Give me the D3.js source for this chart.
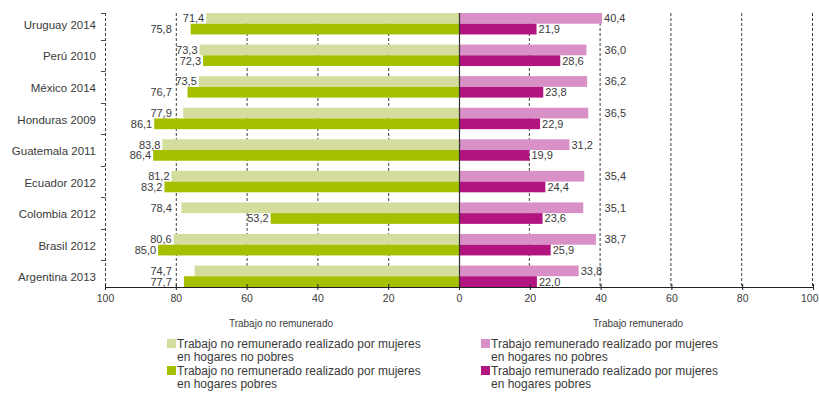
<!DOCTYPE html>
<html>
<head>
<meta charset="utf-8">
<script src="https://cdn.jsdelivr.net/npm/d3@7"></script>
<style>
  html, body { margin: 0; padding: 0; background: #ffffff; }
  svg { display: block; font-family: "Liberation Sans", Arial, sans-serif; }
</style>
</head>
<body>
<svg id="chart" width="819" height="394"></svg>
<script>
// Categories, top to bottom
const categories = ["Uruguay 2014", "Perú 2010", "México 2014", "Honduras 2009", "Guatemala 2011",
                    "Ecuador 2012", "Colombia 2012", "Brasil 2012", "Argentina 2013"];

// Trabajo no remunerado (left panel)
const unpaidNonPoor = [71.4, 73.3, 73.5, 77.9, 83.8, 81.2, 78.4, 80.6, 74.7];
const unpaidPoor    = [75.8, 72.3, 76.7, 86.1, 86.4, 83.2, 53.2, 85.0, 77.7];

// Trabajo remunerado (right panel)
const paidNonPoor = [40.4, 36.0, 36.2, 36.5, 31.2, 35.4, 35.1, 38.7, 33.8];
const paidPoor    = [21.9, 28.6, 23.8, 22.9, 19.9, 24.4, 23.6, 25.9, 22.0];

const tickValues = [0, 20, 40, 60, 80, 100];

const legendItems = [
  ["Trabajo no remunerado realizado por mujeres", "en hogares no pobres"],
  ["Trabajo no remunerado realizado por mujeres", "en hogares pobres"],
  ["Trabajo remunerado realizado por mujeres", "en hogares no pobres"],
  ["Trabajo remunerado realizado por mujeres", "en hogares pobres"]
];

const colors = {
  unpaidNonPoor: "#d5dd9e",
  unpaidPoor: "#a6bf00",
  paidNonPoor: "#d990c6",
  paidPoor: "#b2157f"
};
const textColor = "#3a3a3a";

const svg = d3.select("#chart");
svg.append("rect").attr("width", 819).attr("height", 394).attr("fill", "#fff");

const plotTop = 13, plotBottom = 287, zeroX = 459;
const xL = d3.scaleLinear().domain([0, 100]).range([zeroX, 105]);
const xR = d3.scaleLinear().domain([0, 100]).range([zeroX, 813]);
const y = d3.scaleBand().domain(categories).range([plotTop, plotBottom]).paddingInner(0.32).paddingOuter(0);
const sub = d3.scaleBand().domain(["nonPoor", "poor"]).range([0, y.bandwidth()]);

const fmt = v => d3.format(".1f")(v).replace(".", ",");

// Dashed gridlines (behind the bars)
const grid = svg.append("g").attr("stroke", "#3f3f3f").attr("stroke-width", 1)
  .attr("stroke-dasharray", "3,2");
[20, 40, 60, 80, 100].forEach(v => {
  grid.append("line").attr("x1", xL(v) + 0.5).attr("x2", xL(v) + 0.5).attr("y1", plotTop).attr("y2", plotBottom);
  grid.append("line").attr("x1", xR(v) - 0.5).attr("x2", xR(v) - 0.5).attr("y1", plotTop).attr("y2", plotBottom);
});

// Category boundary ticks on the left edge
const step = y.step(), gap = step - y.bandwidth();
const boundaries = [plotTop].concat(categories.slice(1).map(c => y(c) - gap / 2));
svg.append("g").selectAll("line").data(boundaries).join("line")
  .attr("x1", xL(100) - 4).attr("x2", xL(100) + 0.5)
  .attr("y1", d => Math.round(d) + 0.5).attr("y2", d => Math.round(d) + 0.5)
  .attr("stroke", "#4a4a4a").attr("stroke-width", 1);

// Bars
function bars(values, scale, key, color, side) {
  svg.append("g").selectAll("rect").data(values).join("rect")
    .attr("x", d => side === "left" ? scale(d) : scale(0))
    .attr("width", d => Math.abs(scale(d) - scale(0)))
    .attr("y", (d, i) => y(categories[i]) + sub(key))
    .attr("height", sub.bandwidth())
    .attr("fill", color);
}
bars(unpaidNonPoor, xL, "nonPoor", colors.unpaidNonPoor, "left");
bars(unpaidPoor, xL, "poor", colors.unpaidPoor, "left");
bars(paidNonPoor, xR, "nonPoor", colors.paidNonPoor, "right");
bars(paidPoor, xR, "poor", colors.paidPoor, "right");

// Zero line
svg.append("line").attr("x1", zeroX + 0.5).attr("x2", zeroX + 0.5).attr("y1", plotTop).attr("y2", plotBottom)
  .attr("stroke", "#333").attr("stroke-width", 1.2);

// Value labels: placed at the bar end, moved clear of a gridline they would cross
const gridL = [20, 40, 60, 80].map(v => xL(v));
const gridR = [20, 40, 60, 80].map(v => xR(v));
function labels(values, scale, key, side) {
  const g = svg.append("g").attr("font-size", 11).attr("fill", textColor);
  values.forEach((v, i) => {
    const t = g.append("text").text(fmt(v))
      .attr("y", y(categories[i]) + sub(key) + sub.bandwidth() / 2)
      .attr("dy", "0.36em");
    const w = t.node().getComputedTextLength();
    const end = scale(v);
    if (side === "left") {
      let ax = end - 2;
      gridL.forEach(gx => { if (ax - w < gx && ax > gx && end < gx + 20) ax = gx - 4; });
      t.attr("text-anchor", "end").attr("x", ax);
    } else {
      let ax = end + 2;
      gridR.forEach(gx => { if (ax < gx && ax + w > gx && end > gx - 20) ax = gx + 4; });
      t.attr("text-anchor", "start").attr("x", ax);
    }
  });
}
labels(unpaidNonPoor, xL, "nonPoor", "left");
labels(unpaidPoor, xL, "poor", "left");
labels(paidNonPoor, xR, "nonPoor", "right");
labels(paidPoor, xR, "poor", "right");

// Category labels
svg.append("g").attr("font-size", 11.5).attr("fill", textColor).attr("text-anchor", "end")
  .selectAll("text").data(categories).join("text")
  .attr("x", 96)
  .attr("y", d => y(d) + y.bandwidth() / 2 + 1)
  .attr("dy", "0.36em")
  .text(d => d);

// Bottom value axes
const axL = d3.axisBottom(xL).tickValues(tickValues.filter(v => v > 0)).tickSize(3).tickPadding(5).tickFormat(d3.format("d"));
const axR = d3.axisBottom(xR).tickValues(tickValues).tickSize(3).tickPadding(5).tickFormat(d3.format("d"));
[axL, axR].forEach((ax, k) => {
  const g = svg.append("g").attr("transform", `translate(0,${plotBottom})`).call(ax);
  g.select(".domain").attr("stroke", "#222");
  g.selectAll(".tick line").attr("stroke", "#222").attr("y1", -3);
  g.selectAll(".tick text").attr("font-size", 10.5).attr("fill", textColor)
    .attr("font-family", "Liberation Sans, Arial, sans-serif");
  // keep the last label on the right edge inside the page
  if (k === 1) g.selectAll(".tick text").filter(d => d === 100).attr("text-anchor", "end").attr("x", 818 - xR(100));
});

// Panel titles
svg.append("text").attr("x", (xL(0) + xL(100)) / 2 - 1).attr("y", 323).attr("dy", "0.36em")
  .attr("text-anchor", "middle").attr("font-size", 10).attr("fill", textColor).text("Trabajo no remunerado");
svg.append("text").attr("x", (xR(0) + xR(100)) / 2 + 2).attr("y", 323).attr("dy", "0.36em")
  .attr("text-anchor", "middle").attr("font-size", 10).attr("fill", textColor).text("Trabajo remunerado");

// Legend
const legendColors = [colors.unpaidNonPoor, colors.unpaidPoor, colors.paidNonPoor, colors.paidPoor];
const legendPos = [[167, 344], [167, 371], [481, 344], [481, 371]];
legendItems.forEach((lines, i) => {
  const [lx, ly] = legendPos[i];
  const g = svg.append("g").attr("transform", `translate(${lx},${ly})`);
  g.append("rect").attr("x", 0).attr("y", -5).attr("width", 9).attr("height", 9).attr("fill", legendColors[i]);
  lines.forEach((line, j) => {
    g.append("text").attr("x", 10).attr("y", j * 13).attr("dy", "0.36em")
      .attr("font-size", 12).attr("fill", textColor).text(line);
  });
});
</script>
</body>
</html>
